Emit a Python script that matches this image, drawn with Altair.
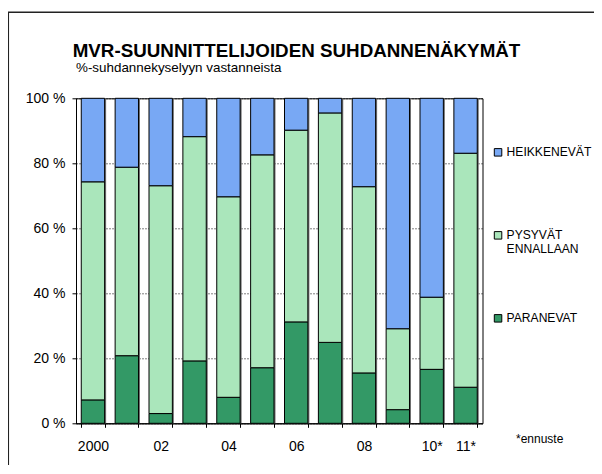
import json
import altair as alt
import pandas as pd

# ---- data ----
years = ["2000", "01", "02", "03", "04", "05", "06", "07", "08", "09", "10*", "11*"]
tick_labels = ["2000", "", "02", "", "04", "", "06", "", "08", "", "10*", "11*"]
paranevat = [7.2, 20.8, 3.0, 19.2, 8.0, 17.1, 31.2, 24.9, 15.5, 4.2, 16.6, 11.1]
pysyvat = [67.1, 58.0, 70.1, 69.0, 61.7, 65.5, 59.0, 70.6, 57.3, 24.9, 22.2, 72.0]
heikkenevat = [25.7, 21.2, 26.9, 11.8, 30.3, 17.4, 9.8, 4.5, 27.2, 70.9, 61.2, 16.9]
series = ["HEIKKENEVÄT", "PYSYVÄT ENNALLAAN", "PARANEVAT"]
colors = ["#78A8F4", "#AAE6BB", "#339966"]
y_ticks = [0, 20, 40, 60, 80, 100]
title_text = ["MVR-SUUNNITTELIJOIDEN SUHDANNENÄKYMÄT"]
subtitle_text = ["%-suhdannekyselyyn vastanneista"]
note = ["*ennuste"]

FONT = "Liberation Sans, Arial, sans-serif"

rows = []
for i, yr in enumerate(years):
    for name, vals, order in [("PARANEVAT", paranevat, 0),
                              ("PYSYVÄT ENNALLAAN", pysyvat, 1),
                              ("HEIKKENEVÄT", heikkenevat, 2)]:
        rows.append({"vuosi": yr, "sarja": name, "osuus": vals[i], "jarj": order})
df = pd.DataFrame(rows)

x_label_expr = f"{json.dumps(tick_labels)}[indexof({json.dumps(years)}, datum.value)]"
legend_label_expr = ("datum.label == 'PYSYVÄT ENNALLAAN' ? ['PYSYVÄT', 'ENNALLAAN'] "
                     ": [datum.label, '']")

W, H = 406.5, 325

x_enc = alt.X("vuosi:N", sort=years,
              scale=alt.Scale(paddingInner=0.31, paddingOuter=0.155),
              axis=alt.Axis(title=None, labelExpr=x_label_expr, tickBand="extent",
                            tickSize=4, labelPadding=12, labelAngle=0, grid=False))
y_scale = alt.Scale(domain=[0, 100], nice=False)
y_axis = alt.Axis(values=y_ticks, labelExpr="datum.value + ' %'", title=None,
                  tickSize=4, labelPadding=7, grid=True, gridDash=[1, 2],
                  gridColor="black", gridOpacity=1)

frame = alt.Chart(pd.DataFrame({"a": [0]})).mark_rect(
    fill="white", fillOpacity=0, stroke="#222222", strokeWidth=1.5
).encode(
    x=alt.value(-67.7), x2=alt.value(700), y=alt.value(-86), y2=alt.value(600)
)

shadow = alt.Chart(df).mark_bar(color="#6e6e6e", xOffset=1.5).encode(
    x=x_enc,
    y=alt.Y("sum(osuus):Q", scale=y_scale, axis=y_axis),
)

bars = alt.Chart(df).mark_bar(stroke="black", strokeWidth=1).encode(
    x=x_enc,
    y=alt.Y("osuus:Q", stack="zero", scale=y_scale, axis=y_axis),
    color=alt.Color("sarja:N",
                    scale=alt.Scale(domain=series, range=colors),
                    legend=alt.Legend(orient="none", legendX=416, legendY=48, title=None,
                                      symbolType="square", symbolSize=56,
                                      symbolStrokeColor="black", symbolStrokeWidth=1,
                                      labelFontSize=12.1, labelFont=FONT, labelColor="black",
                                      labelOffset=2.5, rowPadding=56, labelLimit=300,
                                      labelExpr=legend_label_expr)),
    order=alt.Order("jarj:Q"),
)

title = alt.Chart(pd.DataFrame({"t": title_text})).mark_text(
    align="left", baseline="alphabetic", fontSize=18.8, fontWeight="bold", font=FONT, color="black"
).encode(text="t:N", x=alt.value(-3.3), y=alt.value(-41.6))

subtitle = alt.Chart(pd.DataFrame({"t": subtitle_text})).mark_text(
    align="left", baseline="alphabetic", fontSize=13.4, font=FONT, color="black"
).encode(text="t:N", x=alt.value(0), y=alt.value(-26))

ennuste = alt.Chart(pd.DataFrame({"t": note})).mark_text(
    align="left", baseline="alphabetic", fontSize=12, font=FONT, color="black"
).encode(text="t:N", x=alt.value(440), y=alt.value(345))

chart = alt.layer(frame, shadow, bars, title, subtitle, ennuste).properties(
    width=W, height=H,
    autosize=alt.AutoSizeParams(type="none"),
    padding={"left": 68, "top": 90.3, "right": 111.5, "bottom": 41.7},
).configure_view(
    stroke="black", strokeWidth=1
).configure_axis(
    labelFont=FONT, labelFontSize=14, labelColor="black",
    domainColor="black", tickColor="black", domainWidth=1, tickWidth=1,
)

chart.save("out.html", embed_options={"renderer": "svg", "actions": False})
